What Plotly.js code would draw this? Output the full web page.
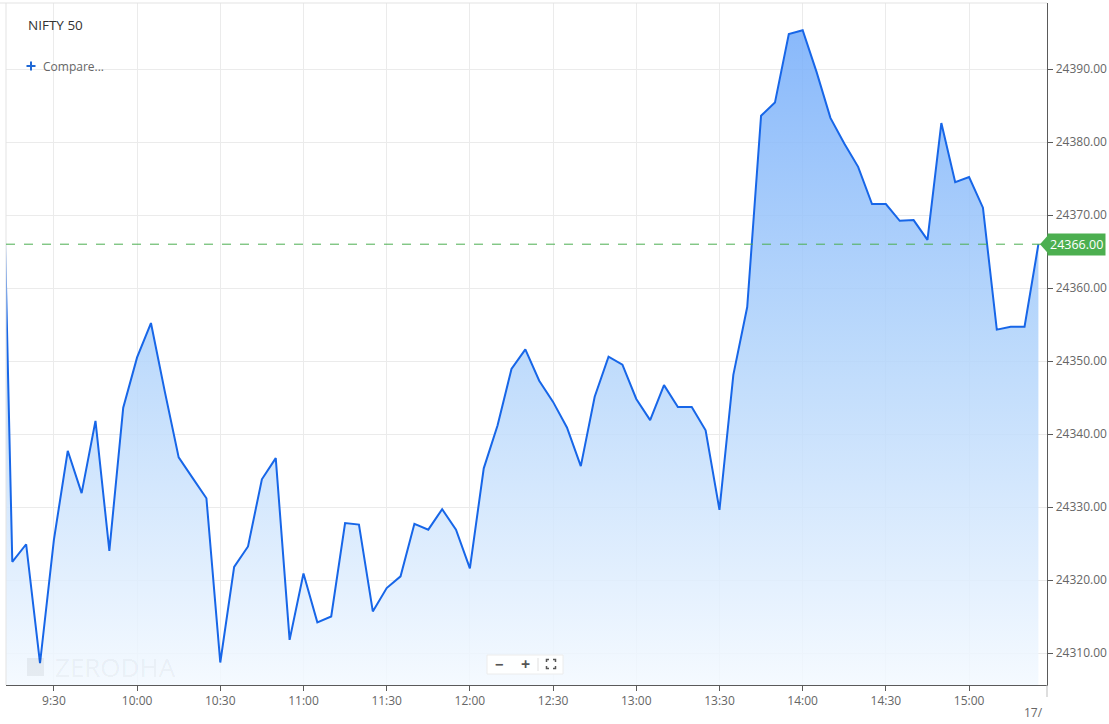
<!DOCTYPE html>
<html>
<head>
<meta charset="utf-8">
<script src="https://cdn.plot.ly/plotly-3.0.1.min.js"></script>
<style>
  html, body { margin: 0; padding: 0; background: #fff; }
  #chart { width: 1109px; height: 724px; }
</style>
</head>
<body>
<div id="chart"></div>
<script>
// ── Data ────────────────────────────────────────────────────────────────
const SESSION_DATE = '2024-10-16';

// 5-minute closes; first entry is the lead-in from the previous session,
// it sits just left of the visible range and gets clipped at the edge
const times = [
  '09:10',
  '09:15', '09:20', '09:25', '09:30', '09:35', '09:40', '09:45', '09:50', '09:55',
  '10:00', '10:05', '10:10', '10:15', '10:20', '10:25', '10:30', '10:35', '10:40', '10:45', '10:50', '10:55',
  '11:00', '11:05', '11:10', '11:15', '11:20', '11:25', '11:30', '11:35', '11:40', '11:45', '11:50', '11:55',
  '12:00', '12:05', '12:10', '12:15', '12:20', '12:25', '12:30', '12:35', '12:40', '12:45', '12:50', '12:55',
  '13:00', '13:05', '13:10', '13:15', '13:20', '13:25', '13:30', '13:35', '13:40', '13:45', '13:50', '13:55',
  '14:00', '14:05', '14:10', '14:15', '14:20', '14:25', '14:30', '14:35', '14:40', '14:45', '14:50', '14:55',
  '15:00', '15:05', '15:10', '15:15', '15:20', '15:25',
];

const closes = [
  24406.0,
  24322.5, 24324.9, 24308.6, 24325.5, 24337.7, 24331.9, 24341.8, 24324.0, 24343.6,
  24350.5, 24355.2, 24345.8, 24336.8, 24334.0, 24331.2, 24308.7, 24321.8, 24324.6, 24333.8, 24336.7, 24311.8,
  24320.9, 24314.2, 24315.0, 24327.8, 24327.6, 24315.7, 24318.9, 24320.5, 24327.7, 24326.9, 24329.7, 24326.9,
  24321.6, 24335.3, 24341.2, 24348.9, 24351.6, 24347.3, 24344.4, 24340.9, 24335.6, 24345.1, 24350.6, 24349.5,
  24344.8, 24341.9, 24346.7, 24343.7, 24343.7, 24340.5, 24329.6, 24348.1, 24357.4, 24383.6, 24385.4, 24394.8,
  24395.3, 24389.6, 24383.3, 24379.8, 24376.6, 24371.5, 24371.5, 24369.2, 24369.3, 24366.6, 24382.6, 24374.5,
  24375.2, 24371.0, 24354.3, 24354.7, 24354.7, 24366.0,
];

const yTicks = [24310, 24320, 24330, 24340, 24350, 24360, 24370, 24380, 24390];
const lastPrice = 24366.00;
const symbolName = 'NIFTY 50';

// ── Layout helpers (pixel -> paper) ─────────────────────────────────────
const W = 1109, H = 724;
const M = {l: 6, r: 62, t: 3, b: 39};
const plotW = W - M.l - M.r;
const plotH = H - M.t - M.b;
const px = x => (x - M.l) / plotW;
const py = y => 1 - (y - M.t) / plotH;

(function drawChart() {
  const x = times.map(t => `${SESSION_DATE} ${t}`);

  const FONT = '"Open Sans", "Noto Sans", sans-serif';
  const GRID = '#ebebeb';
  const AXIS = '#5a5a5a';

  // slightly see-through so the grid shows inside the area, like Kite
  const priceTrace = {
    x: x, y: closes,
    type: 'scatter',
    mode: 'lines',
    line: {color: '#1766e8', width: 2},
    fill: 'tozeroy',
    fillgradient: {
      type: 'vertical',
      start: 24305.6,
      stop: 24399,
      colorscale: [
        [0,   'rgba(243,249,255,0.85)'],
        [0.5, 'rgba(176,211,251,0.85)'],
        [1,   'rgba(111,169,250,0.85)'],
      ],
    },
    hoverinfo: 'skip',
    showlegend: false,
  };

  // zoom-control icon (fullscreen corners)
  const cx = 551, cy = 664, s = 4.5, k = 2.5;
  const corner = (ax, ay, dx, dy) =>
    `M ${px(ax + dx * k)},${py(ay)} L ${px(ax)},${py(ay)} L ${px(ax)},${py(ay + dy * k)}`;
  const iconPath = [
    corner(cx - s, cy - s, 1, 1),
    corner(cx + s, cy - s, -1, 1),
    corner(cx - s, cy + s, 1, -1),
    corner(cx + s, cy + s, -1, -1),
  ].join(' ');

  const shapes = [
    // frame: top + left light borders
    {type: 'line', xref: 'paper', yref: 'paper', x0: px(0), x1: 1, y0: 1, y1: 1,
     line: {color: '#e3e3e3', width: 1}},
    {type: 'line', xref: 'paper', yref: 'paper', x0: 0, x1: 0, y0: 0, y1: 1,
     line: {color: '#e3e3e3', width: 1}},
    // last price line
    {type: 'line', xref: 'paper', yref: 'y', x0: 0, x1: 1, y0: lastPrice, y1: lastPrice,
     line: {color: '#4caf50', width: 1, dash: 'dash'}},
    // last price tag arrow
    {type: 'path', xref: 'paper', yref: 'y', xsizemode: 'pixel', ysizemode: 'pixel',
     xanchor: 1, yanchor: lastPrice, path: 'M -7,0 L 1,9 L 1,-9 Z',
     fillcolor: '#4caf50', line: {width: 0}},
    // end-of-session tick
    {type: 'line', xref: 'paper', yref: 'paper', x0: 1, x1: 1, y0: 0, y1: py(697),
     line: {color: '#bdbdbd', width: 1}},
    // "+" of the Compare link
    {type: 'line', xref: 'paper', yref: 'paper', x0: px(26.5), x1: px(35.5), y0: py(66), y1: py(66),
     line: {color: '#1f68d5', width: 2}},
    {type: 'line', xref: 'paper', yref: 'paper', x0: px(31), x1: px(31), y0: py(61.5), y1: py(70.5),
     line: {color: '#1f68d5', width: 2}},
    // watermark logo
    {type: 'rect', xref: 'paper', yref: 'paper', x0: px(27), x1: px(44), y0: py(676), y1: py(658),
     fillcolor: 'rgba(0,0,0,0.055)', line: {width: 0}},
    // zoom controls
    {type: 'rect', xref: 'paper', yref: 'paper', x0: px(487), x1: px(563), y0: py(674), y1: py(655),
     fillcolor: 'rgba(255,255,255,0.92)', line: {color: '#ececec', width: 1}},
    {type: 'line', xref: 'paper', yref: 'paper', x0: px(538), x1: px(538), y0: py(671), y1: py(658),
     line: {color: '#e0e0e0', width: 1}},
    {type: 'path', xref: 'paper', yref: 'paper', path: iconPath,
     line: {color: '#555', width: 1.5}},
  ];

  const annotations = [
    {xref: 'paper', yref: 'paper', x: px(26), y: py(25), xanchor: 'left', yanchor: 'middle',
     text: symbolName, showarrow: false, font: {family: FONT, size: 13.5, color: '#333'}},
    {xref: 'paper', yref: 'paper', x: px(41), y: py(66), xanchor: 'left', yanchor: 'middle',
     text: 'Compare...', showarrow: false, font: {family: FONT, size: 12, color: '#666'}},
    {xref: 'paper', yref: 'y', x: 1, y: lastPrice, xanchor: 'left', yanchor: 'middle',
     text: lastPrice.toFixed(2), showarrow: false, bgcolor: '#4caf50', borderpad: 2,
     font: {family: FONT, size: 12.5, color: '#fff'}},
    {xref: 'paper', yref: 'paper', x: px(53), y: py(667), xanchor: 'left', yanchor: 'middle',
     text: 'ZERODHA', showarrow: false,
     font: {family: FONT, size: 26, color: 'rgba(0,0,0,0.055)'}},
    {xref: 'paper', yref: 'paper', x: px(499), y: py(664), xanchor: 'center', yanchor: 'middle',
     text: '<b>−</b>', showarrow: false, font: {family: FONT, size: 15, color: '#555'}},
    {xref: 'paper', yref: 'paper', x: px(525), y: py(664), xanchor: 'center', yanchor: 'middle',
     text: '<b>+</b>', showarrow: false, font: {family: FONT, size: 16, color: '#555'}},
    {xref: 'paper', yref: 'paper', x: px(1045), y: py(712), xanchor: 'right', yanchor: 'middle',
     text: '17/', showarrow: false, font: {family: FONT, size: 12, color: '#666'}},
  ];

  const layout = {
    width: W, height: H,
    margin: M,
    paper_bgcolor: '#fff',
    plot_bgcolor: '#fff',
    font: {family: FONT, size: 12, color: '#666'},
    showlegend: false,
    hovermode: false,
    xaxis: {
      type: 'date',
      range: [`${SESSION_DATE} 09:12:44`, `${SESSION_DATE} 15:28:06`],
      tick0: `${SESSION_DATE} 09:30`,
      dtick: 30 * 60 * 1000,
      tickformat: '%-H:%M',
      ticks: 'outside', ticklen: 5, tickcolor: AXIS,
      showline: true, linecolor: AXIS, linewidth: 1,
      showgrid: true, gridcolor: GRID, gridwidth: 1,
      zeroline: false,
      tickfont: {family: FONT, size: 12, color: '#666'},
      fixedrange: true,
    },
    yaxis: {
      side: 'right',
      range: [24305.62, 24399.04],
      tickvals: yTicks,
      tickformat: '.2f',
      ticks: 'outside', ticklen: 5, tickcolor: AXIS,
      showline: true, linecolor: AXIS, linewidth: 1.3,
      showgrid: true, gridcolor: GRID, gridwidth: 1,
      zeroline: false,
      tickfont: {family: FONT, size: 12, color: '#666'},
      fixedrange: true,
    },
    shapes: shapes,
    annotations: annotations,
  };

  Plotly.newPlot('chart', [priceTrace], layout, {displayModeBar: false, staticPlot: true});
})();
</script>
</body>
</html>
